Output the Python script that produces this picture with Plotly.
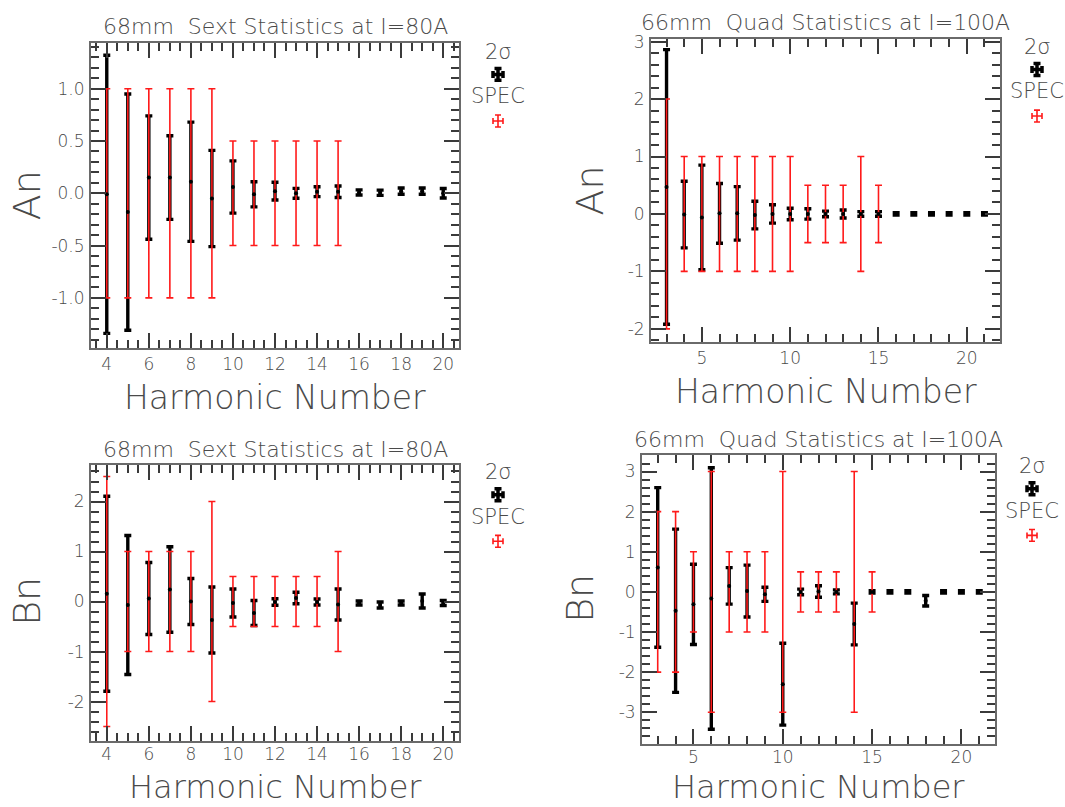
import plotly.graph_objects as go

# ---------------- data ----------------
# Top-left: 68mm Sext, An
sext_n = list(range(4, 21))
an_sext_mean = [-0.01, -0.18, 0.15, 0.15, 0.11, -0.05, 0.06, -0.01, 0.02, 0.0, 0.015, 0.015, 0.008, 0.005, 0.02, 0.02, 0.0]
an_sext_2sig = [1.33, 1.13, 0.59, 0.40, 0.57, 0.46, 0.25, 0.12, 0.085, 0.047, 0.047, 0.055, 0.024, 0.025, 0.03, 0.03, 0.045]
sext_spec_n = list(range(4, 16))
an_sext_spec = [1.0, 1.0, 1.0, 1.0, 1.0, 1.0, 0.5, 0.5, 0.5, 0.5, 0.5, 0.5]

# Bottom-left: 68mm Sext, Bn
bn_sext_mean = [0.155, -0.07, 0.06, 0.24, 0.0, -0.37, -0.03, -0.23, -0.01, 0.07, -0.01, -0.06, -0.03, -0.07, -0.03, 0.01, -0.03]
bn_sext_2sig = [1.95, 1.39, 0.72, 0.855, 0.46, 0.66, 0.28, 0.25, 0.065, 0.115, 0.06, 0.31, 0.04, 0.06, 0.04, 0.14, 0.05]
bn_sext_spec = [2.5, 1.0, 1.0, 1.0, 1.0, 2.0, 0.5, 0.5, 0.5, 0.5, 0.5, 1.0]

# Top-right: 66mm Quad, An
quad_n = list(range(3, 22))
an_quad_mean = [0.47, -0.01, -0.06, 0.01, 0.01, -0.02, 0.0, 0.0, 0.0, 0.0, 0.0, 0.0, 0.0, 0.0, 0.0, 0.0, 0.0, 0.0, 0.0]
an_quad_2sig = [2.39, 0.58, 0.91, 0.52, 0.465, 0.24, 0.16, 0.10, 0.09, 0.05, 0.07, 0.04, 0.04, 0.02, 0.02, 0.02, 0.02, 0.02, 0.02]
quad_spec_n = list(range(3, 16))
an_quad_spec = [2.0, 1.0, 1.0, 1.0, 1.0, 1.0, 1.0, 1.0, 0.5, 0.5, 0.5, 1.0, 0.5]

# Bottom-right: 66mm Quad, Bn
bn_quad_mean = [0.61, -0.47, -0.31, -0.165, 0.15, 0.02, -0.06, -2.3, 0.0, 0.01, 0.0, -0.8, 0.0, 0.0, 0.0, -0.22, 0.0, 0.0, 0.0]
bn_quad_2sig = [1.99, 2.035, 1.0, 3.26, 0.455, 0.647, 0.177, 1.02, 0.07, 0.145, 0.05, 0.52, 0.03, 0.03, 0.03, 0.13, 0.03, 0.03, 0.03]
bn_quad_spec = [2.0, 2.0, 1.0, 3.0, 1.0, 1.0, 1.0, 3.0, 0.5, 0.5, 0.5, 3.0, 0.5]

# tick labels
sext_x_ticks = [4, 6, 8, 10, 12, 14, 16, 18, 20]
sext_x_labels = ["4", "6", "8", "10", "12", "14", "16", "18", "20"]
quad_x_ticks = [5, 10, 15, 20]
quad_x_labels = ["5", "10", "15", "20"]
an_sext_y_ticks = [-1.0, -0.5, 0.0, 0.5, 1.0]
an_sext_y_labels = ["-1.0", "-0.5", "0.0", "0.5", "1.0"]
an_quad_y_ticks = [-2, -1, 0, 1, 2, 3]
an_quad_y_labels = ["-2", "-1", "0", "1", "2", "3"]
bn_sext_y_ticks = [-2, -1, 0, 1, 2]
bn_sext_y_labels = ["-2", "-1", "0", "1", "2"]
bn_quad_y_ticks = [-3, -2, -1, 0, 1, 2, 3]
bn_quad_y_labels = ["-3", "-2", "-1", "0", "1", "2", "3"]

sext_title = "68mm\u00a0 Sext Statistics at I=80A"
quad_title = "66mm\u00a0 Quad Statistics at I=100A"
x_title = "Harmonic Number"

# ---------------- layout helpers ----------------
W, H = 1065, 807
FONT = "DejaVu Sans"
WT = 200
TXT = "#4a4a4a"
LINE = "#6a6a6a"
TICK = "#3a3a3a"

panels = [
    dict(n=sext_n, mean=an_sext_mean, sig=an_sext_2sig, sn=sext_spec_n, spec=an_sext_spec,
         box=(91, 459, 36, 344), xr=[3.25, 20.75], yr=[-1.48, 1.44],
         xt=sext_x_ticks, xl=sext_x_labels, xm=0.5, yt=an_sext_y_ticks, yl=an_sext_y_labels, ym=0.1,
         title=sext_title, ytitle="An", ytpos=(27, 190), leg=(498, 45), bottom=False),
    dict(n=quad_n, mean=an_quad_mean, sig=an_quad_2sig, sn=quad_spec_n, spec=an_quad_spec,
         box=(651, 1000, 32, 338), xr=[2.12, 21.88], yr=[-2.23, 3.05],
         xt=quad_x_ticks, xl=quad_x_labels, xm=1, yt=an_quad_y_ticks, yl=an_quad_y_labels, ym=0.2,
         title=quad_title, ytitle="An", ytpos=(590, 185), leg=(1037, 40), bottom=False),
    dict(n=sext_n, mean=bn_sext_mean, sig=bn_sext_2sig, sn=sext_spec_n, spec=bn_sext_spec,
         box=(91, 459, 462, 740), xr=[3.25, 20.75], yr=[-2.78, 2.73],
         xt=sext_x_ticks, xl=sext_x_labels, xm=0.5, yt=bn_sext_y_ticks, yl=bn_sext_y_labels, ym=0.2,
         title=sext_title, ytitle="Bn", ytpos=(27, 600), leg=(498, 469), bottom=True),
    dict(n=quad_n, mean=bn_quad_mean, sig=bn_quad_2sig, sn=quad_spec_n, spec=bn_quad_spec,
         box=(642, 995, 452, 743), xr=[2.12, 21.88], yr=[-3.78, 3.41],
         xt=quad_x_ticks, xl=quad_x_labels, xm=1, yt=bn_quad_y_ticks, yl=bn_quad_y_labels, ym=0.2,
         title=quad_title, ytitle="Bn", ytpos=(580, 597), leg=(1032, 463), bottom=True),
]


def fnt(size):
    return dict(family=FONT, size=size, color=TXT, weight=WT)


fig = go.Figure()
layout = dict(width=W, height=H, margin=dict(l=0, r=0, t=0, b=0), autosize=False,
              paper_bgcolor="white", plot_bgcolor="rgba(0,0,0,0)", showlegend=False,
              font=dict(family=FONT, color=TXT))
annotations = []

for i, p in enumerate(panels, start=1):
    xa = "x" if i == 1 else f"x{i}"
    ya = "y" if i == 1 else f"y{i}"
    x0, x1, y0, y1 = p["box"]
    zeros = [0.0] * len(p["sn"])
    # black 2-sigma bars
    fig.add_trace(go.Scatter(x=p["n"], y=p["mean"], mode="markers", xaxis=xa, yaxis=ya,
                             marker=dict(size=4, color="black", opacity=0),
                             error_y=dict(type="data", array=p["sig"], symmetric=True,
                                          color="black", thickness=3.4, width=3.5)))
    # red spec bars
    fig.add_trace(go.Scatter(x=p["sn"], y=zeros, mode="markers", xaxis=xa, yaxis=ya,
                             marker=dict(size=2, color="red", opacity=0),
                             error_y=dict(type="data", array=p["spec"], symmetric=True,
                                          color="#ff1a1a", thickness=1.6, width=3.5)))
    # mean dots
    fig.add_trace(go.Scatter(x=p["n"], y=p["mean"], mode="markers", xaxis=xa, yaxis=ya,
                             marker=dict(size=4, color="black")))

    common = dict(showline=True, linewidth=2, linecolor=LINE, mirror="ticks",
                  ticks="inside", tickwidth=1.5, tickcolor=TICK, ticklen=15,
                  showgrid=False, zeroline=False, tickmode="array",
                  tickfont=fnt(17))
    xkey = "xaxis" if i == 1 else f"xaxis{i}"
    ykey = "yaxis" if i == 1 else f"yaxis{i}"
    layout[xkey] = dict(common, domain=[x0 / W, x1 / W], range=p["xr"], anchor=ya,
                        tickvals=p["xt"], ticktext=p["xl"],
                        ticklabelstandoff=(-3 if p["bottom"] else 0),
                        minor=dict(dtick=p["xm"], tick0=0, ticks="inside", ticklen=8,
                                   tickwidth=1.5, tickcolor=TICK, showgrid=False))
    layout[ykey] = dict(common, domain=[1 - y1 / H, 1 - y0 / H], range=p["yr"], anchor=xa,
                        tickvals=p["yt"], ticktext=p["yl"], ticklabelstandoff=1,
                        minor=dict(dtick=p["ym"], tick0=0, ticks="inside", ticklen=8,
                                   tickwidth=1.5, tickcolor=TICK, showgrid=False))

    # titles
    annotations.append(dict(text=p["title"], x=(x0 + x1) / 2 / W, y=1 - (y0 - 16) / H,
                             xref="paper", yref="paper", showarrow=False,
                             xanchor="center", yanchor="middle", font=fnt(22)))
    if p["bottom"]:
        annotations.append(dict(text=x_title, x=(x0 + x1) / 2 / W, y=0.0,
                                 xref="paper", yref="paper", showarrow=False, borderpad=0,
                                 xanchor="center", yanchor="bottom", font=fnt(32)))
    else:
        annotations.append(dict(text=x_title, x=(x0 + x1) / 2 / W, y=1 - (y1 + 50) / H,
                                 xref="paper", yref="paper", showarrow=False,
                                 xanchor="center", yanchor="middle", font=fnt(33)))
    tx, ty = p["ytpos"]
    annotations.append(dict(text=p["ytitle"], x=tx / W, y=1 - ty / H, textangle=-90,
                             xref="paper", yref="paper", showarrow=False,
                             xanchor="center", yanchor="middle", font=fnt(38)))
    # legend texts
    lx, ly = p["leg"]
    annotations.append(dict(text="2σ", x=lx / W, y=1 - ly / H, xref="paper", yref="paper",
                             showarrow=False, xanchor="center", yanchor="middle", font=fnt(21)))
    annotations.append(dict(text="SPEC", x=lx / W, y=1 - (ly + 45) / H, xref="paper", yref="paper",
                             showarrow=False, xanchor="center", yanchor="middle", font=fnt(21)))
    # legend symbols on full-figure overlay axis (pixel coordinates)
    fig.add_trace(go.Scatter(x=[lx], y=[ly + 23], mode="markers", xaxis="x5", yaxis="y5",
                             marker=dict(size=3, color="black"),
                             error_y=dict(type="constant", value=6, color="black", thickness=3.5, width=3.5),
                             error_x=dict(type="constant", value=5, color="black", thickness=3.5, width=3.5)))
    fig.add_trace(go.Scatter(x=[lx], y=[ly + 70], mode="markers", xaxis="x5", yaxis="y5",
                             marker=dict(size=1, color="red", opacity=0),
                             error_y=dict(type="constant", value=6, color="#ff1a1a", thickness=1.6, width=3),
                             error_x=dict(type="constant", value=5, color="#ff1a1a", thickness=1.6, width=3)))

layout["xaxis5"] = dict(domain=[0, 1], range=[0, W], visible=False, anchor="y5")
layout["yaxis5"] = dict(domain=[0, 1], range=[H, 0], visible=False, anchor="x5")
layout["annotations"] = annotations
fig.update_layout(**layout)
fig.write_html("out.html", config={"displayModeBar": False},
               post_script="document.body.style.margin='0px';document.body.style.overflow='hidden';")
